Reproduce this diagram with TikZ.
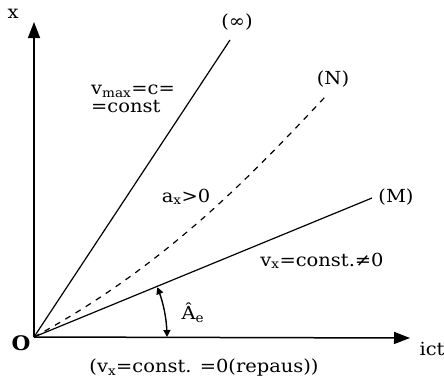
\documentclass[tikz,border=0pt]{standalone}
\usepackage{fontspec}
\setmainfont[FakeStretch=1.08]{DejaVu Serif}
\usetikzlibrary{arrows.meta}
\begin{document}
\begin{tikzpicture}[x=1pt,y=-1pt,
  axis/.style={line width=1.5pt,-{Triangle[length=16pt,width=12pt]}},
  ray/.style={line width=1.2pt},
  lbl/.style={font=\fontsize{18}{18}\selectfont,inner sep=1pt}]
\useasboundingbox (0,0) rectangle (444,380);
\coordinate (O) at (34,337);
\coordinate (Xend) at (410,338);
\coordinate (Yend) at (34,22);
\coordinate (Inf) at (230,40);
\coordinate (N) at (325,97);
\coordinate (M) at (372,198);
\coordinate (c1) at (165,266);
\coordinate (c2) at (250,177);
\draw[axis] (O) -- (Xend);
\draw[axis] (O) -- (Yend);
\draw[ray] (O) -- (Inf);
\draw[ray,dashed,dash pattern=on 6pt off 6pt] (O) .. controls (c1) and (c2) .. (N);
\draw[ray] (O) -- (M);
\draw[line width=1.4pt,{Triangle[length=7pt,width=7pt]}-{Triangle[length=7pt,width=7pt]}]
  plot[domain=22:0,samples=25] ({34+133*cos(\x)},{337-133*sin(\x)});
\node[lbl] (lx) at (13,14) {x};
\node[lbl] (lo) at (21,343) {\fontsize{20}{20}\selectfont\textbf{O}};
\node[lbl] (lict) at (432,349) {ict};
\node[lbl] (linf) at (237,22) {(∞)};
\node[lbl] (lN) at (333,79) {(N)};
\node[lbl] (lM) at (396,197) {(M)};
\node[lbl,align=left,anchor=west] (lvmax) at (90,99) {v\textsubscript{max}=c=\\=const};
\node[lbl] (lax) at (186,197) {a\textsubscript{x}>0};
\node[lbl] (lvx) at (322,261) {v\textsubscript{x}=const.≠0};
\node[lbl] (lA) at (193,313) {Â\textsubscript{e}};
\node[lbl] (lrep) at (204,368) {(v\textsubscript{x}=const. =0(repaus))};
\end{tikzpicture}
\end{document}
